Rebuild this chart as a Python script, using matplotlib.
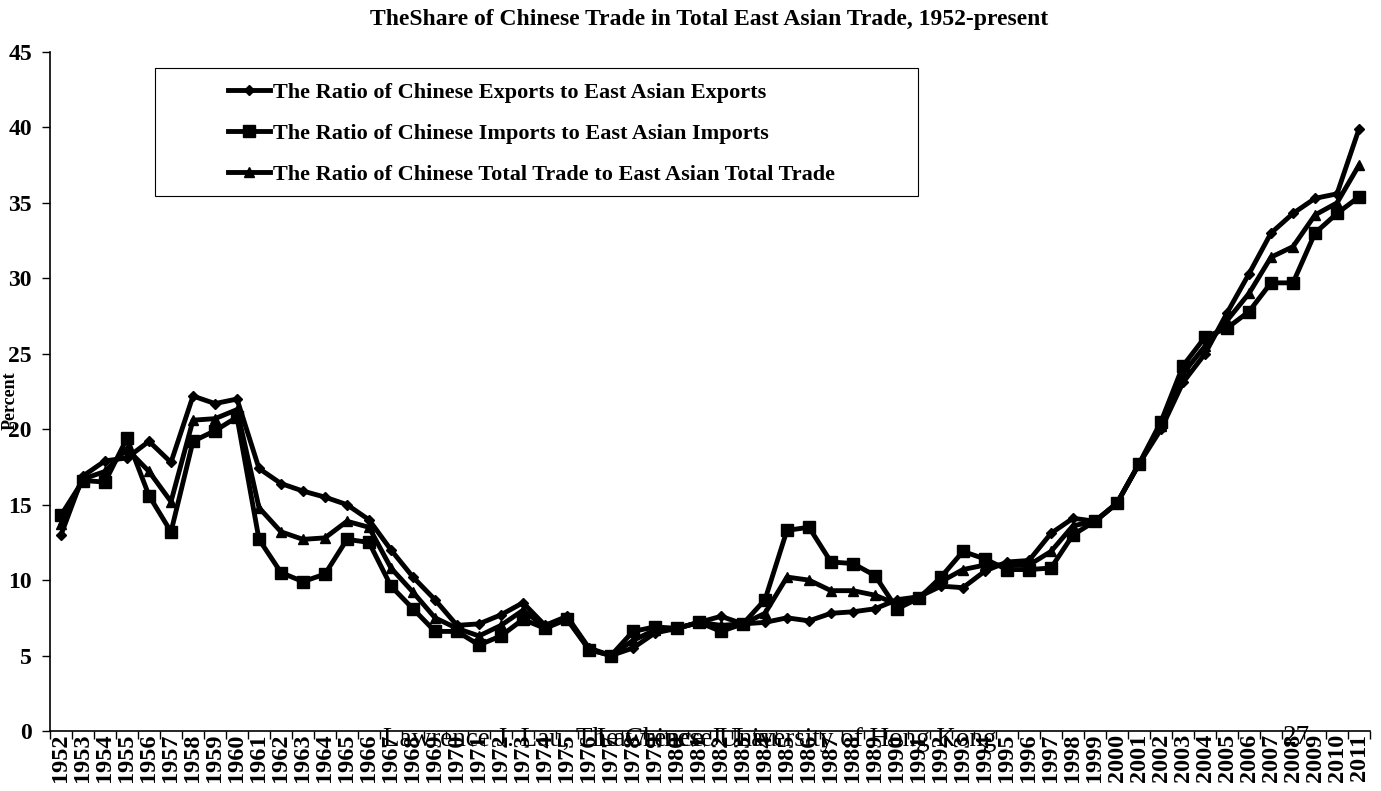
import matplotlib
matplotlib.use("Agg")
import matplotlib.pyplot as plt
from matplotlib.ticker import FixedLocator
from matplotlib.patches import Rectangle

years = list(range(1952, 2012))

exports = [13.0, 16.9, 17.9, 18.1, 19.2, 17.8, 22.2, 21.7, 22.0, 17.4,
           16.4, 15.9, 15.5, 15.0, 14.0, 12.0, 10.2, 8.7, 7.0, 7.1,
           7.7, 8.5, 7.0, 7.6, 5.5, 5.0, 5.5, 6.5, 6.8, 7.2,
           7.6, 7.1, 7.2, 7.5, 7.3, 7.8, 7.9, 8.1, 8.7, 8.9,
           9.6, 9.5, 10.6, 11.2, 11.3, 13.1, 14.1, 13.9, 15.1, 17.7,
           20.0, 23.1, 25.0, 27.7, 30.3, 33.0, 34.3, 35.3, 35.6, 39.9]

imports = [14.3, 16.6, 16.5, 19.4, 15.6, 13.2, 19.2, 19.9, 20.8, 12.7,
           10.5, 9.9, 10.4, 12.7, 12.5, 9.6, 8.1, 6.6, 6.6, 5.7,
           6.3, 7.4, 6.8, 7.4, 5.4, 5.0, 6.6, 6.9, 6.8, 7.2,
           6.6, 7.1, 8.7, 13.3, 13.5, 11.2, 11.1, 10.3, 8.1, 8.8,
           10.2, 11.9, 11.4, 10.7, 10.7, 10.8, 13.0, 13.9, 15.1, 17.7,
           20.5, 24.2, 26.1, 26.7, 27.8, 29.7, 29.7, 33.0, 34.3, 35.4]

total = [13.7, 16.7, 17.2, 18.7, 17.2, 15.2, 20.6, 20.7, 21.3, 14.8,
         13.2, 12.7, 12.8, 13.9, 13.5, 10.8, 9.2, 7.5, 6.8, 6.3,
         7.0, 8.0, 6.9, 7.5, 5.4, 5.0, 6.0, 6.7, 6.8, 7.2,
         7.0, 7.1, 7.8, 10.2, 10.0, 9.3, 9.3, 9.0, 8.4, 8.9,
         9.9, 10.7, 11.0, 11.0, 11.0, 11.9, 13.6, 13.9, 15.1, 17.7,
         20.2, 23.7, 25.5, 27.2, 29.0, 31.4, 32.1, 34.2, 35.0, 37.5]

series_labels = ["The Ratio of Chinese Exports to East Asian Exports",
                 "The Ratio of Chinese Imports to East Asian Imports",
                 "The Ratio of Chinese Total Trade to East Asian Total Trade"]

yticks = [0, 5, 10, 15, 20, 25, 30, 35, 40, 45]

serif = ["Liberation Serif", "DejaVu Serif"]

W, H = 1381, 791
fig = plt.figure(figsize=(W / 100, H / 100), dpi=100)
ax = fig.add_axes([50 / W, 60 / H, 1320 / W, 679 / H])

x = list(range(len(years)))
ax.plot(x, exports, color="black", lw=3.5, marker="D", ms=5.5, label=series_labels[0])
ax.plot(x, imports, color="black", lw=3.5, marker="s", ms=8, label=series_labels[1])
ax.plot(x, total, color="black", lw=3.5, marker="^", ms=7, label=series_labels[2])

ax.set_xlim(-0.5, len(years) - 0.5)
ax.set_ylim(0, 45)
ax.set_yticks(yticks)
ax.set_yticklabels([str(v) for v in yticks], fontfamily=serif, fontweight="bold", fontsize=17)
ax.set_xticks(x)
ax.set_xticklabels([str(y) for y in years], rotation=90, fontfamily=serif,
                   fontweight="bold", fontsize=17.5)
ax.xaxis.set_minor_locator(FixedLocator([i - 0.5 for i in range(len(years) + 1)]))
ax.tick_params(axis="x", which="major", length=0, pad=2)
ax.tick_params(axis="x", which="minor", length=6, width=1, direction="out")
ax.tick_params(axis="y", length=6, width=1, direction="out", pad=7)

for s in ["top", "right"]:
    ax.spines[s].set_visible(False)
for s in ["left", "bottom"]:
    ax.spines[s].set_linewidth(1.2)

ax.set_ylabel("Percent", fontfamily=serif, fontweight="bold", fontsize=13)
ax.yaxis.set_label_coords(-0.024, 0.487)

def ax_x(px):
    return (px - 50) / 1320

def ax_y(py):
    return (731 - py) / 679

frame = Rectangle((ax_x(155), ax_y(196)), ax_x(918) - ax_x(155), ax_y(68) - ax_y(196),
                  transform=ax.transAxes, fill=True, facecolor="white",
                  edgecolor="black", lw=0.8, zorder=4)
ax.add_patch(frame)

leg = ax.legend(loc="upper left", bbox_to_anchor=(ax_x(228), ax_y(82)),
                frameon=False, handlelength=1.9, borderaxespad=0, borderpad=0,
                labelspacing=0.92, handletextpad=0.12,
                prop={"family": serif, "weight": "bold", "size": 16})
leg.set_zorder(5)

fig.text(709 / W, 1 - 19 / H, "TheShare of Chinese Trade in Total East Asian Trade, 1952-present",
         ha="center", va="center", fontfamily=serif, fontweight="bold", fontsize=17)

fig.text(383 / W, 1 - 740 / H, "Lawrence J. Lau, The Chinese University of Hong Kong",
         ha="left", va="center", fontfamily=serif, fontsize=19.5)
fig.text(597 / W, 1 - 740 / H, "Lawrence J. Lau",
         ha="left", va="center", fontfamily=serif, fontsize=19.5)
fig.text(1296 / W, 1 - 738 / H, "27", ha="center", va="center", fontfamily=serif, fontsize=19.5)

fig.savefig("out.png", dpi=100)
